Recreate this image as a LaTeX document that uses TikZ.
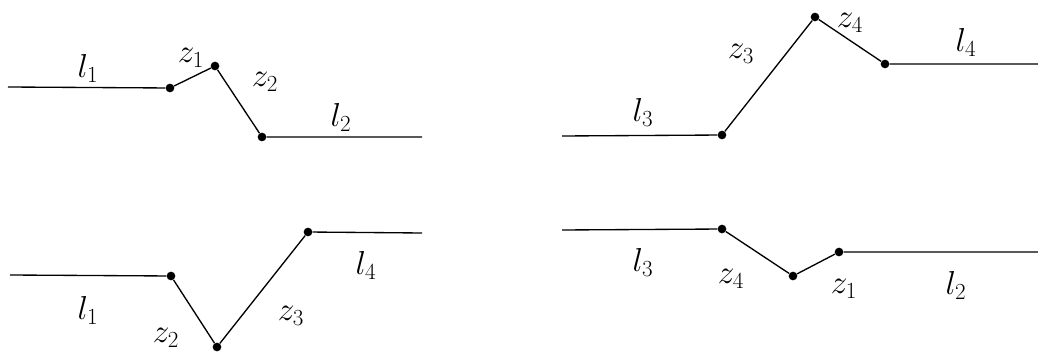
\documentclass[tikz,border=0pt]{standalone}
\newcommand{\sym}[2]{$#1_{#2}$}
\begin{document}
\begin{tikzpicture}[x=0.75pt,y=-0.75pt,
  dotpt/.style={circle,fill=black,inner sep=0pt,minimum size=6.5pt},
  seg/.style={line width=1pt},
  lab/.style={inner sep=0pt,font=\fontsize{27}{32}\selectfont}]
\useasboundingbox (0,0) rectangle (1038,356);
% top-left
\coordinate (a0) at (8,87);
\node[dotpt] (a1) at (170,88) {};
\node[dotpt] (a2) at (215,66) {};
\node[dotpt] (a3) at (262,137) {};
\coordinate (a4) at (422,137);
\draw[seg] (a0) -- (a1) -- (a2) -- (a3) -- (a4);
\node[lab] (la1) at (88,68) {\sym{l}{1}};
\node[lab] (la2) at (191,58) {\sym{z}{1}};
\node[lab] (la3) at (265,82) {\sym{z}{2}};
\node[lab] (la4) at (341,117) {\sym{l}{2}};
% top-right
\coordinate (b0) at (562,136);
\node[dotpt] (b1) at (722,135) {};
\node[dotpt] (b2) at (815,17) {};
\node[dotpt] (b3) at (885,64) {};
\coordinate (b4) at (1038,64);
\draw[seg] (b0) -- (b1) -- (b2) -- (b3) -- (b4);
\node[lab] (lb1) at (643,112) {\sym{l}{3}};
\node[lab] (lb2) at (741,54) {\sym{z}{3}};
\node[lab] (lb3) at (850,23) {\sym{z}{4}};
\node[lab] (lb4) at (966,42) {\sym{l}{4}};
% bottom-left
\coordinate (c0) at (10,275);
\node[dotpt] (c1) at (171,276) {};
\node[dotpt] (c2) at (217,347) {};
\node[dotpt] (c3) at (308,232) {};
\coordinate (c4) at (422,233);
\draw[seg] (c0) -- (c1) -- (c2) -- (c3) -- (c4);
\node[lab] (lc1) at (88,310) {\sym{l}{1}};
\node[lab] (lc2) at (166,338) {\sym{z}{2}};
\node[lab] (lc3) at (291,316) {\sym{z}{3}};
\node[lab] (lc4) at (366,265) {\sym{l}{4}};
% bottom-right
\coordinate (d0) at (562,230);
\node[dotpt] (d1) at (722,229) {};
\node[dotpt] (d2) at (793,276) {};
\node[dotpt] (d3) at (839,252) {};
\coordinate (d4) at (1038,252);
\draw[seg] (d0) -- (d1) -- (d2) -- (d3) -- (d4);
\node[lab] (ld1) at (643,262) {\sym{l}{3}};
\node[lab] (ld2) at (731,279) {\sym{z}{4}};
\node[lab] (ld3) at (844,289) {\sym{z}{1}};
\node[lab] (ld4) at (956,285) {\sym{l}{2}};
\end{tikzpicture}
\end{document}
